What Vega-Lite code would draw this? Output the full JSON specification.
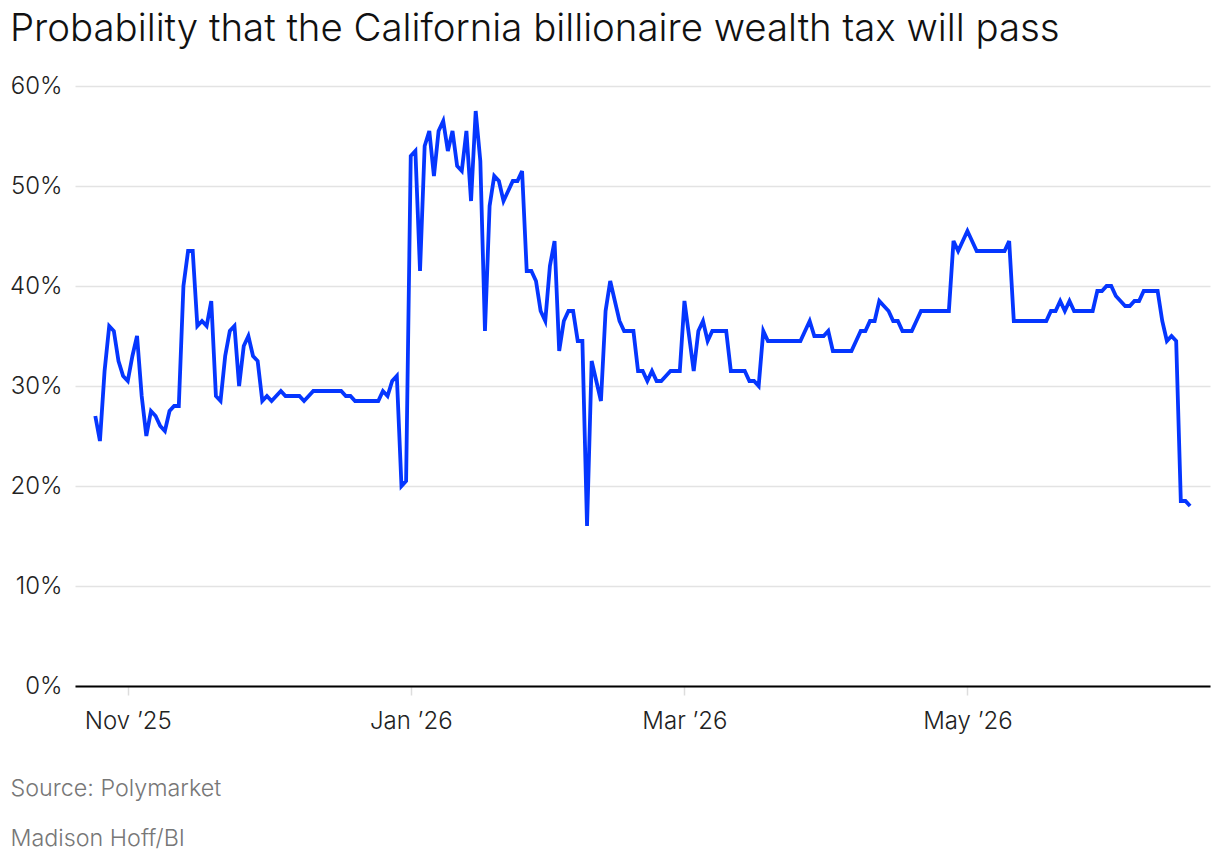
{
  "$schema": "https://vega.github.io/schema/vega-lite/v6.json",
  "width": 1135,
  "height": 600,
  "autosize": {"type": "none"},
  "padding": {"left": 75, "top": 86, "right": 10, "bottom": 174},
  "background": "white",
  "config": {"view": {"stroke": null}},
  "title": {
    "text": "Probability that the California billionaire wealth tax will pass",
    "anchor": "start",
    "frame": "group",
    "font": "Inter",
    "fontSize": 38.4,
    "fontWeight": 300,
    "color": "#111111",
    "dx": -65,
    "offset": 25
  },
  "data": {
    "values": [
      {"date": "2025-10-25", "prob": 27.0},
      {"date": "2025-10-26", "prob": 24.5},
      {"date": "2025-10-27", "prob": 31.5},
      {"date": "2025-10-28", "prob": 36.0},
      {"date": "2025-10-29", "prob": 35.5},
      {"date": "2025-10-30", "prob": 32.5},
      {"date": "2025-10-31", "prob": 31.0},
      {"date": "2025-11-01", "prob": 30.5},
      {"date": "2025-11-02", "prob": 33.0},
      {"date": "2025-11-03", "prob": 35.0},
      {"date": "2025-11-04", "prob": 29.0},
      {"date": "2025-11-05", "prob": 25.0},
      {"date": "2025-11-06", "prob": 27.5},
      {"date": "2025-11-07", "prob": 27.0},
      {"date": "2025-11-08", "prob": 26.0},
      {"date": "2025-11-09", "prob": 25.5},
      {"date": "2025-11-10", "prob": 27.5},
      {"date": "2025-11-11", "prob": 28.0},
      {"date": "2025-11-12", "prob": 28.0},
      {"date": "2025-11-13", "prob": 40.0},
      {"date": "2025-11-14", "prob": 43.5},
      {"date": "2025-11-15", "prob": 43.5},
      {"date": "2025-11-16", "prob": 36.0},
      {"date": "2025-11-17", "prob": 36.5},
      {"date": "2025-11-18", "prob": 36.0},
      {"date": "2025-11-19", "prob": 38.5},
      {"date": "2025-11-20", "prob": 29.0},
      {"date": "2025-11-21", "prob": 28.5},
      {"date": "2025-11-22", "prob": 33.0},
      {"date": "2025-11-23", "prob": 35.5},
      {"date": "2025-11-24", "prob": 36.0},
      {"date": "2025-11-25", "prob": 30.0},
      {"date": "2025-11-26", "prob": 34.0},
      {"date": "2025-11-27", "prob": 35.0},
      {"date": "2025-11-28", "prob": 33.0},
      {"date": "2025-11-29", "prob": 32.5},
      {"date": "2025-11-30", "prob": 28.5},
      {"date": "2025-12-01", "prob": 29.0},
      {"date": "2025-12-02", "prob": 28.5},
      {"date": "2025-12-03", "prob": 29.0},
      {"date": "2025-12-04", "prob": 29.5},
      {"date": "2025-12-05", "prob": 29.0},
      {"date": "2025-12-06", "prob": 29.0},
      {"date": "2025-12-07", "prob": 29.0},
      {"date": "2025-12-08", "prob": 29.0},
      {"date": "2025-12-09", "prob": 28.5},
      {"date": "2025-12-10", "prob": 29.0},
      {"date": "2025-12-11", "prob": 29.5},
      {"date": "2025-12-12", "prob": 29.5},
      {"date": "2025-12-13", "prob": 29.5},
      {"date": "2025-12-14", "prob": 29.5},
      {"date": "2025-12-15", "prob": 29.5},
      {"date": "2025-12-16", "prob": 29.5},
      {"date": "2025-12-17", "prob": 29.5},
      {"date": "2025-12-18", "prob": 29.0},
      {"date": "2025-12-19", "prob": 29.0},
      {"date": "2025-12-20", "prob": 28.5},
      {"date": "2025-12-21", "prob": 28.5},
      {"date": "2025-12-22", "prob": 28.5},
      {"date": "2025-12-23", "prob": 28.5},
      {"date": "2025-12-24", "prob": 28.5},
      {"date": "2025-12-25", "prob": 28.5},
      {"date": "2025-12-26", "prob": 29.5},
      {"date": "2025-12-27", "prob": 29.0},
      {"date": "2025-12-28", "prob": 30.5},
      {"date": "2025-12-29", "prob": 31.0},
      {"date": "2025-12-30", "prob": 20.0},
      {"date": "2025-12-31", "prob": 20.5},
      {"date": "2026-01-01", "prob": 53.0},
      {"date": "2026-01-02", "prob": 53.5},
      {"date": "2026-01-03", "prob": 41.5},
      {"date": "2026-01-04", "prob": 54.0},
      {"date": "2026-01-05", "prob": 55.5},
      {"date": "2026-01-06", "prob": 51.0},
      {"date": "2026-01-07", "prob": 55.5},
      {"date": "2026-01-08", "prob": 56.5},
      {"date": "2026-01-09", "prob": 53.5},
      {"date": "2026-01-10", "prob": 55.5},
      {"date": "2026-01-11", "prob": 52.0},
      {"date": "2026-01-12", "prob": 51.5},
      {"date": "2026-01-13", "prob": 55.5},
      {"date": "2026-01-14", "prob": 48.5},
      {"date": "2026-01-15", "prob": 57.5},
      {"date": "2026-01-16", "prob": 52.5},
      {"date": "2026-01-17", "prob": 35.5},
      {"date": "2026-01-18", "prob": 48.0},
      {"date": "2026-01-19", "prob": 51.0},
      {"date": "2026-01-20", "prob": 50.5},
      {"date": "2026-01-21", "prob": 48.5},
      {"date": "2026-01-22", "prob": 49.5},
      {"date": "2026-01-23", "prob": 50.5},
      {"date": "2026-01-24", "prob": 50.5},
      {"date": "2026-01-25", "prob": 51.5},
      {"date": "2026-01-26", "prob": 41.5},
      {"date": "2026-01-27", "prob": 41.5},
      {"date": "2026-01-28", "prob": 40.5},
      {"date": "2026-01-29", "prob": 37.5},
      {"date": "2026-01-30", "prob": 36.5},
      {"date": "2026-01-31", "prob": 42.0},
      {"date": "2026-02-01", "prob": 44.5},
      {"date": "2026-02-02", "prob": 33.5},
      {"date": "2026-02-03", "prob": 36.5},
      {"date": "2026-02-04", "prob": 37.5},
      {"date": "2026-02-05", "prob": 37.5},
      {"date": "2026-02-06", "prob": 34.5},
      {"date": "2026-02-07", "prob": 34.5},
      {"date": "2026-02-08", "prob": 16.0},
      {"date": "2026-02-09", "prob": 32.5},
      {"date": "2026-02-10", "prob": 30.5},
      {"date": "2026-02-11", "prob": 28.5},
      {"date": "2026-02-12", "prob": 37.5},
      {"date": "2026-02-13", "prob": 40.5},
      {"date": "2026-02-14", "prob": 38.5},
      {"date": "2026-02-15", "prob": 36.5},
      {"date": "2026-02-16", "prob": 35.5},
      {"date": "2026-02-17", "prob": 35.5},
      {"date": "2026-02-18", "prob": 35.5},
      {"date": "2026-02-19", "prob": 31.5},
      {"date": "2026-02-20", "prob": 31.5},
      {"date": "2026-02-21", "prob": 30.5},
      {"date": "2026-02-22", "prob": 31.5},
      {"date": "2026-02-23", "prob": 30.5},
      {"date": "2026-02-24", "prob": 30.5},
      {"date": "2026-02-25", "prob": 31.0},
      {"date": "2026-02-26", "prob": 31.5},
      {"date": "2026-02-27", "prob": 31.5},
      {"date": "2026-02-28", "prob": 31.5},
      {"date": "2026-03-01", "prob": 38.5},
      {"date": "2026-03-02", "prob": 35.0},
      {"date": "2026-03-03", "prob": 31.5},
      {"date": "2026-03-04", "prob": 35.5},
      {"date": "2026-03-05", "prob": 36.5},
      {"date": "2026-03-06", "prob": 34.5},
      {"date": "2026-03-07", "prob": 35.5},
      {"date": "2026-03-08", "prob": 35.5},
      {"date": "2026-03-09", "prob": 35.5},
      {"date": "2026-03-10", "prob": 35.5},
      {"date": "2026-03-11", "prob": 31.5},
      {"date": "2026-03-12", "prob": 31.5},
      {"date": "2026-03-13", "prob": 31.5},
      {"date": "2026-03-14", "prob": 31.5},
      {"date": "2026-03-15", "prob": 30.5},
      {"date": "2026-03-16", "prob": 30.5},
      {"date": "2026-03-17", "prob": 30.0},
      {"date": "2026-03-18", "prob": 35.5},
      {"date": "2026-03-19", "prob": 34.5},
      {"date": "2026-03-20", "prob": 34.5},
      {"date": "2026-03-21", "prob": 34.5},
      {"date": "2026-03-22", "prob": 34.5},
      {"date": "2026-03-23", "prob": 34.5},
      {"date": "2026-03-24", "prob": 34.5},
      {"date": "2026-03-25", "prob": 34.5},
      {"date": "2026-03-26", "prob": 34.5},
      {"date": "2026-03-27", "prob": 35.5},
      {"date": "2026-03-28", "prob": 36.5},
      {"date": "2026-03-29", "prob": 35.0},
      {"date": "2026-03-30", "prob": 35.0},
      {"date": "2026-03-31", "prob": 35.0},
      {"date": "2026-04-01", "prob": 35.5},
      {"date": "2026-04-02", "prob": 33.5},
      {"date": "2026-04-03", "prob": 33.5},
      {"date": "2026-04-04", "prob": 33.5},
      {"date": "2026-04-05", "prob": 33.5},
      {"date": "2026-04-06", "prob": 33.5},
      {"date": "2026-04-07", "prob": 34.5},
      {"date": "2026-04-08", "prob": 35.5},
      {"date": "2026-04-09", "prob": 35.5},
      {"date": "2026-04-10", "prob": 36.5},
      {"date": "2026-04-11", "prob": 36.5},
      {"date": "2026-04-12", "prob": 38.5},
      {"date": "2026-04-13", "prob": 38.0},
      {"date": "2026-04-14", "prob": 37.5},
      {"date": "2026-04-15", "prob": 36.5},
      {"date": "2026-04-16", "prob": 36.5},
      {"date": "2026-04-17", "prob": 35.5},
      {"date": "2026-04-18", "prob": 35.5},
      {"date": "2026-04-19", "prob": 35.5},
      {"date": "2026-04-20", "prob": 36.5},
      {"date": "2026-04-21", "prob": 37.5},
      {"date": "2026-04-22", "prob": 37.5},
      {"date": "2026-04-23", "prob": 37.5},
      {"date": "2026-04-24", "prob": 37.5},
      {"date": "2026-04-25", "prob": 37.5},
      {"date": "2026-04-26", "prob": 37.5},
      {"date": "2026-04-27", "prob": 37.5},
      {"date": "2026-04-28", "prob": 44.5},
      {"date": "2026-04-29", "prob": 43.5},
      {"date": "2026-04-30", "prob": 44.5},
      {"date": "2026-05-01", "prob": 45.5},
      {"date": "2026-05-02", "prob": 44.5},
      {"date": "2026-05-03", "prob": 43.5},
      {"date": "2026-05-04", "prob": 43.5},
      {"date": "2026-05-05", "prob": 43.5},
      {"date": "2026-05-06", "prob": 43.5},
      {"date": "2026-05-07", "prob": 43.5},
      {"date": "2026-05-08", "prob": 43.5},
      {"date": "2026-05-09", "prob": 43.5},
      {"date": "2026-05-10", "prob": 44.5},
      {"date": "2026-05-11", "prob": 36.5},
      {"date": "2026-05-12", "prob": 36.5},
      {"date": "2026-05-13", "prob": 36.5},
      {"date": "2026-05-14", "prob": 36.5},
      {"date": "2026-05-15", "prob": 36.5},
      {"date": "2026-05-16", "prob": 36.5},
      {"date": "2026-05-17", "prob": 36.5},
      {"date": "2026-05-18", "prob": 36.5},
      {"date": "2026-05-19", "prob": 37.5},
      {"date": "2026-05-20", "prob": 37.5},
      {"date": "2026-05-21", "prob": 38.5},
      {"date": "2026-05-22", "prob": 37.5},
      {"date": "2026-05-23", "prob": 38.5},
      {"date": "2026-05-24", "prob": 37.5},
      {"date": "2026-05-25", "prob": 37.5},
      {"date": "2026-05-26", "prob": 37.5},
      {"date": "2026-05-27", "prob": 37.5},
      {"date": "2026-05-28", "prob": 37.5},
      {"date": "2026-05-29", "prob": 39.5},
      {"date": "2026-05-30", "prob": 39.5},
      {"date": "2026-05-31", "prob": 40.0},
      {"date": "2026-06-01", "prob": 40.0},
      {"date": "2026-06-02", "prob": 39.0},
      {"date": "2026-06-03", "prob": 38.5},
      {"date": "2026-06-04", "prob": 38.0},
      {"date": "2026-06-05", "prob": 38.0},
      {"date": "2026-06-06", "prob": 38.5},
      {"date": "2026-06-07", "prob": 38.5},
      {"date": "2026-06-08", "prob": 39.5},
      {"date": "2026-06-09", "prob": 39.5},
      {"date": "2026-06-10", "prob": 39.5},
      {"date": "2026-06-11", "prob": 39.5},
      {"date": "2026-06-12", "prob": 36.5},
      {"date": "2026-06-13", "prob": 34.5},
      {"date": "2026-06-14", "prob": 35.0},
      {"date": "2026-06-15", "prob": 34.5},
      {"date": "2026-06-16", "prob": 18.5},
      {"date": "2026-06-17", "prob": 18.5},
      {"date": "2026-06-18", "prob": 18.0}
    ]
  },
  "mark": {"type": "line", "color": "#0536ff", "strokeWidth": 3.8},
  "encoding": {
    "x": {
      "field": "date",
      "type": "temporal",
      "scale": {
        "type": "utc",
        "domain": [
          {"year": 2025, "month": 10, "date": 20, "hours": 15, "utc": true},
          {"year": 2026, "month": 6, "date": 22, "hours": 7, "utc": true}
        ]
      },
      "axis": {
        "values": [
          {"year": 2025, "month": 11, "date": 1, "utc": true},
          {"year": 2026, "month": 1, "date": 1, "utc": true},
          {"year": 2026, "month": 3, "date": 1, "utc": true},
          {"year": 2026, "month": 5, "date": 1, "utc": true}
        ],
        "format": "%b ’%y",
        "grid": false,
        "domainColor": "#000000",
        "domainWidth": 2,
        "tickColor": "#dddddd",
        "tickWidth": 1.5,
        "tickSize": 9,
        "labelPadding": 14,
        "labelFont": "Inter",
        "labelFontSize": 24,
        "labelFontWeight": 300,
        "labelColor": "#222222",
        "labelFlush": false,
        "title": ["Source: Polymarket", "Madison Hoff/BI"],
        "titleAnchor": "start",
        "titleAlign": "left",
        "titleBaseline": "alphabetic",
        "titleX": -65,
        "titleY": 109,
        "titleLineHeight": 50,
        "titleFont": "Inter",
        "titleFontSize": 23.3,
        "titleFontWeight": 300,
        "titleColor": "#777777"
      }
    },
    "y": {
      "field": "prob",
      "type": "quantitative",
      "scale": {"domain": [0, 60], "nice": false},
      "axis": {
        "values": [0, 10, 20, 30, 40, 50, 60],
        "labelExpr": "datum.value + '%'",
        "title": null,
        "domain": false,
        "ticks": false,
        "labelPadding": 13,
        "labelFont": "Inter",
        "labelFontSize": 24,
        "labelFontWeight": 300,
        "labelColor": "#222222",
        "gridColor": "#e3e3e3",
        "gridWidth": 1.5
      }
    }
  }
}
